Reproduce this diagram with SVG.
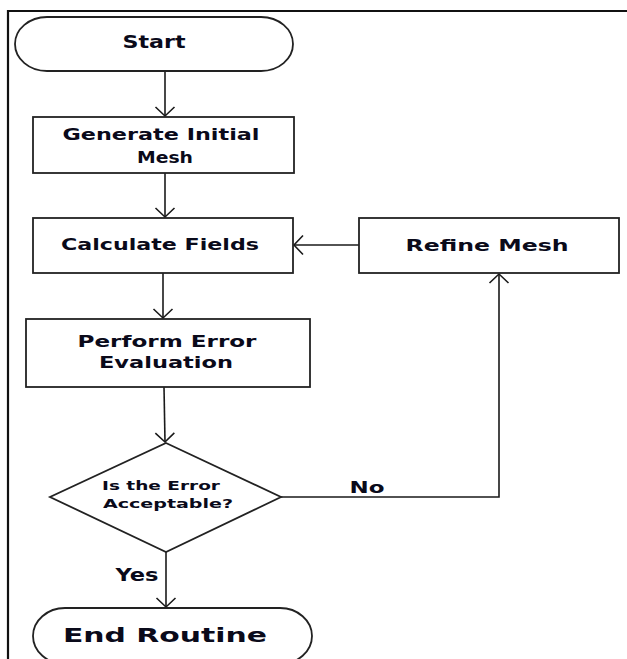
<svg xmlns="http://www.w3.org/2000/svg" width="627" height="659" viewBox="0 0 627 659">
  <style>
    .shape { fill: #ffffff; stroke: #222222; stroke-width: 1.8; }
    .conn { fill: none; stroke: #1a1a1a; stroke-width: 1.6; }
    .lbl { font-family: "DejaVu Sans", Verdana, sans-serif; font-weight: bold; fill: #0a0a1a; text-anchor: middle; }
    .frame { fill: none; stroke: #111111; stroke-width: 2.2; }
  </style>
  <defs>
    <marker id="arr" viewBox="-11 -11 13 22" markerWidth="13" markerHeight="22" refX="0" refY="0" orient="auto" markerUnits="userSpaceOnUse">
      <path d="M-9,-9.5 L0,0 L-9,9.5" fill="none" stroke="#1a1a1a" stroke-width="1.6"/>
    </marker>
  </defs>
  <rect width="627" height="659" fill="#ffffff"/>
  <path class="frame" d="M8,659 L8,11 L627,11"/>

  <g id="connectors">
    <line class="conn" x1="165" y1="71" x2="165" y2="116" marker-end="url(#arr)"/>
    <line class="conn" x1="165" y1="173" x2="165" y2="217" marker-end="url(#arr)"/>
    <line class="conn" x1="163" y1="273" x2="163" y2="318" marker-end="url(#arr)"/>
    <line class="conn" x1="164" y1="387" x2="165" y2="442" marker-end="url(#arr)"/>
    <line class="conn" x1="166" y1="552" x2="166" y2="607" marker-end="url(#arr)"/>
    <line class="conn" x1="359" y1="245" x2="294" y2="245" marker-end="url(#arr)"/>
    <polyline class="conn" points="281,497 499,497 499,274" marker-end="url(#arr)"/>
    <text class="lbl" x="367" y="493" font-size="16" textLength="35" lengthAdjust="spacingAndGlyphs">No</text>
    <text class="lbl" x="137" y="581" font-size="17" textLength="43" lengthAdjust="spacingAndGlyphs">Yes</text>
  </g>

  <g id="start">
    <rect class="shape" x="15" y="17" width="278" height="54" rx="32" ry="27"/>
    <text class="lbl" x="154" y="48" font-size="17" textLength="63" lengthAdjust="spacingAndGlyphs">Start</text>
  </g>

  <g id="generate">
    <rect class="shape" x="33" y="117" width="261" height="56"/>
    <text class="lbl" x="161" y="140" font-size="16.5" textLength="197" lengthAdjust="spacingAndGlyphs">Generate Initial</text>
    <text class="lbl" x="165" y="163" font-size="16.5" textLength="56" lengthAdjust="spacingAndGlyphs">Mesh</text>
  </g>

  <g id="calculate">
    <rect class="shape" x="33" y="218" width="260" height="55"/>
    <text class="lbl" x="160" y="250" font-size="16.5" textLength="198" lengthAdjust="spacingAndGlyphs">Calculate Fields</text>
  </g>

  <g id="refine">
    <rect class="shape" x="359" y="218" width="260" height="55"/>
    <text class="lbl" x="487" y="251" font-size="16.5" textLength="163" lengthAdjust="spacingAndGlyphs">Refine Mesh</text>
  </g>

  <g id="evaluate">
    <rect class="shape" x="26" y="319" width="284" height="68"/>
    <text class="lbl" x="167" y="347" font-size="16.5" textLength="179" lengthAdjust="spacingAndGlyphs">Perform Error</text>
    <text class="lbl" x="166" y="368" font-size="16.5" textLength="134" lengthAdjust="spacingAndGlyphs">Evaluation</text>
  </g>

  <g id="decision">
    <polygon class="shape" points="166,443 281,497 166,552 50,497"/>
    <text class="lbl" x="161" y="490" font-size="13" textLength="118" lengthAdjust="spacingAndGlyphs">Is the Error</text>
    <text class="lbl" x="168" y="508" font-size="13" textLength="130" lengthAdjust="spacingAndGlyphs">Acceptable?</text>
  </g>

  <g id="end">
    <rect class="shape" x="33" y="608" width="279" height="56" rx="32" ry="28"/>
    <text class="lbl" x="165" y="642" font-size="19" textLength="204" lengthAdjust="spacingAndGlyphs">End Routine</text>
  </g>
</svg>
